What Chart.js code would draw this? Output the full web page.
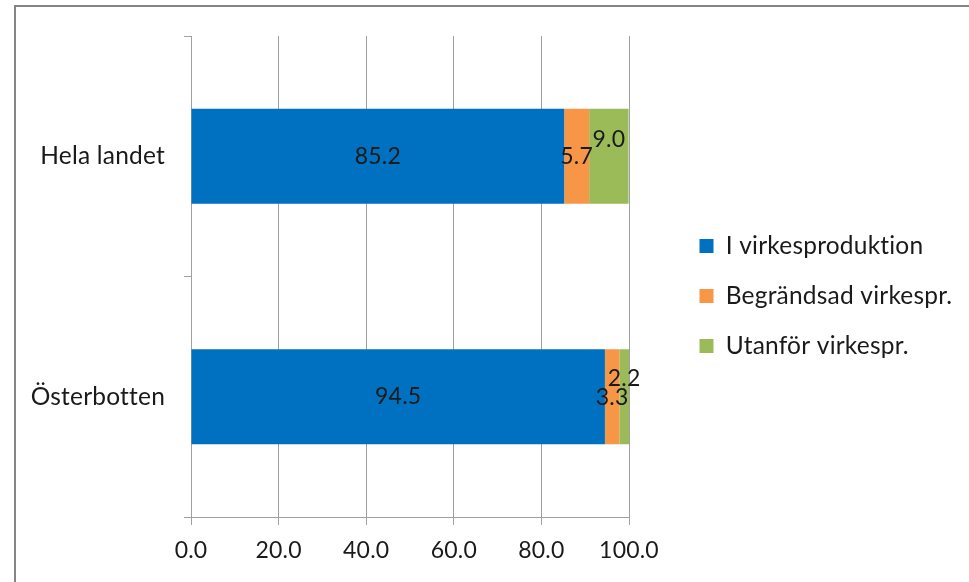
<!DOCTYPE html>
<html><head><meta charset="utf-8">
<script src="https://cdn.jsdelivr.net/npm/chart.js@4/dist/chart.umd.min.js"></script>
<style>
html,body{margin:0;padding:0;background:#fff;overflow:hidden;width:969px;height:582px;}
#frame{position:absolute;left:14px;top:5px;width:1000px;height:640px;border:2px solid #858585;box-sizing:border-box;}
#wrap{position:absolute;left:0;top:0;width:969px;height:582px;}
</style></head><body>
<div id="frame"></div>
<div id="wrap"><canvas id="c" width="969" height="582" style="width:969px;height:582px"></canvas></div>
<script>
const categories = ['Hela landet', 'Österbotten'];
const seriesNames = ['I virkesproduktion', 'Begrändsad virkespr.', 'Utanför virkespr.'];
const iVirkesproduktion = [85.2, 94.5];
const begransadVirkespr = [5.7, 3.3];
const utanforVirkespr = [9.0, 2.2];
const xTickValues = [0, 20, 40, 60, 80, 100];

const FONT = 'Lato';
const FS = 23;
const FS_TEXT = 24.5;
const TXT = '#1a1a1a';
const GRID = '#a0a0a0';

const noLigatures = {
  id: 'noLigatures',
  beforeDraw(chart) { try { chart.ctx.letterSpacing = '0.2px'; } catch (e) {} }
};

const valueLabels = {
  id: 'valueLabels',
  afterDatasetsDraw(chart) {
    const ctx = chart.ctx;
    ctx.save();
    ctx.font = FS + 'px ' + FONT;
    ctx.fillStyle = TXT;
    ctx.textAlign = 'center';
    ctx.textBaseline = 'middle';
    chart.data.datasets.forEach((ds, i) => {
      const meta = chart.getDatasetMeta(i);
      meta.data.forEach((el, j) => {
        const p = el.getProps(['x', 'y', 'base'], true);
        const off = (ds.labelShiftY || [])[j] || 0;
        ctx.fillText(ds.data[j].toFixed(1), (p.x + p.base) / 2, p.y + off);
      });
    });
    ctx.restore();
  }
};

const legendPlace = {
  id: 'legendPlace',
  afterLayout(chart) {
    const l = chart.legend;
    if (!l) return;
    const w = l.width;
    l.left = 674; l.right = 674 + w;
    l.top = 100; l.bottom = 492;
  }
};

new Chart(document.getElementById('c'), {
  type: 'bar',
  data: {
    labels: categories,
    datasets: [
      { label: seriesNames[0], data: iVirkesproduktion, backgroundColor: '#0070C0' },
      { label: seriesNames[1], data: begransadVirkespr, backgroundColor: '#F79646', labelShiftY: [0, 1] },
      { label: seriesNames[2], data: utanforVirkespr, backgroundColor: '#9BBB59', labelShiftY: [-17, -18] }
    ]
  },
  options: {
    indexAxis: 'y',
    responsive: false,
    animation: false,
    events: [],
    categoryPercentage: 1,
    barPercentage: 0.395,
    layout: { padding: { left: 0, top: 36, right: 340, bottom: 0 } },
    scales: {
      x: {
        stacked: true,
        min: 0, max: 100,
        afterBuildTicks(s) { s.ticks = xTickValues.map(v => ({ value: v })); },
        afterFit(s) { s.height = 65; },
        grid: { color: GRID, lineWidth: 1, tickLength: 8, drawTicks: true },
        border: { color: GRID, width: 1 },
        ticks: { color: TXT, font: { family: FONT, size: FS }, padding: 12, maxRotation: 0,
                 callback: v => Number(v).toFixed(1) }
      },
      y: {
        stacked: true,
        afterFit(s) { s.width = 191; },
        grid: { display: true, drawOnChartArea: false, drawTicks: true, tickLength: 7, color: GRID, offset: true },
        border: { color: GRID, width: 1 },
        ticks: { color: TXT, font: { family: FONT, size: FS_TEXT }, padding: 19 }
      }
    },
    plugins: {
      tooltip: { enabled: false },
      legend: {
        position: 'chartArea',
        align: 'center',
        labels: { color: TXT, font: { family: FONT, size: FS_TEXT }, boxWidth: 14, boxHeight: 14, padding: 25.5 }
      }
    }
  },
  plugins: [noLigatures, valueLabels, legendPlace]
});
</script>
</body></html>
